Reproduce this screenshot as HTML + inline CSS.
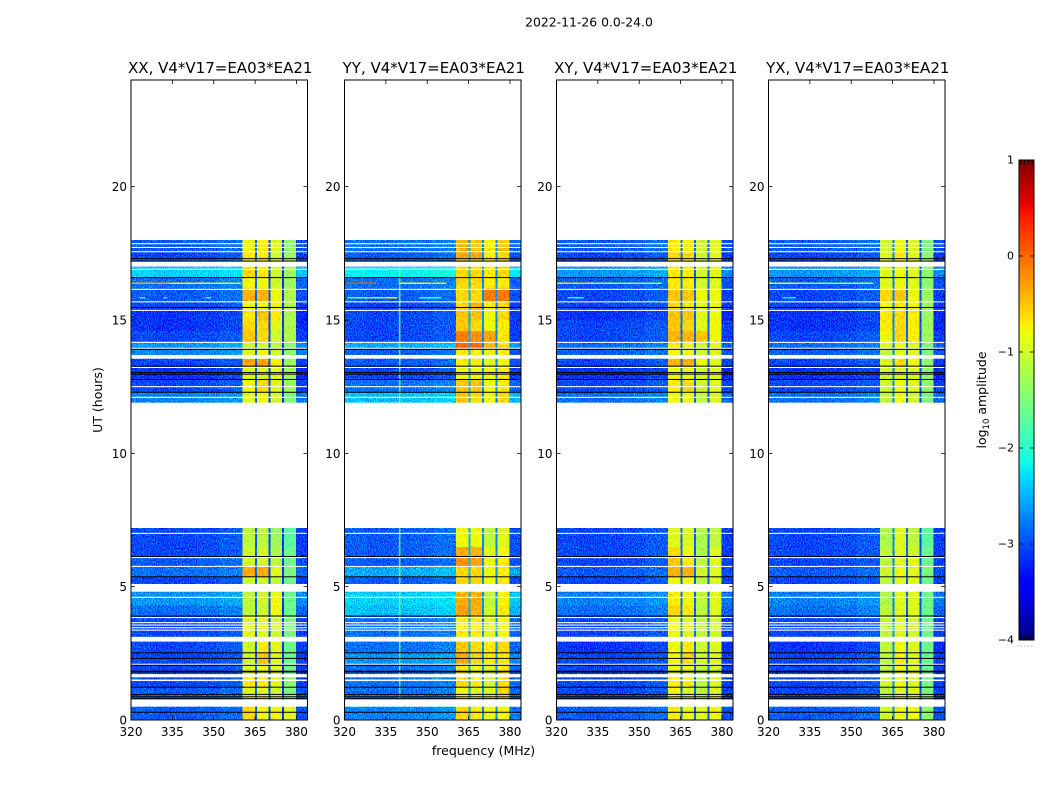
<!DOCTYPE html>
<html lang="en">
<head>
<meta charset="utf-8">
<title>2022-11-26 0.0-24.0</title>
<style>
html,body{margin:0;padding:0;background:#fff;}
svg{display:block;}
text{font-family:"DejaVu Sans","Liberation Sans",sans-serif;fill:#000;}
</style>
</head>
<body>
<svg id="figure" xmlns="http://www.w3.org/2000/svg" width="1050" height="800" viewBox="0 0 1050 800">
  <defs>
    <filter id="speckle-low" x="0" y="0" width="1" height="1" color-interpolation-filters="sRGB">
      <feTurbulence type="fractalNoise" baseFrequency="0.85 0.6" numOctaves="1" seed="4" result="n"/>
      <feColorMatrix in="n" result="m" type="matrix" values="0 0 0 0 0.4615  1 0 0 0 0  0 0 0 0 0.4615  0 0 0 0 1"/>
      <feComposite in="SourceGraphic" in2="m" operator="arithmetic" k1="0" k2="1" k3="1.3" k4="-0.6"/>
    </filter>
    <filter id="speckle-band" x="0" y="0" width="1" height="1" color-interpolation-filters="sRGB">
      <feTurbulence type="fractalNoise" baseFrequency="0.5 0.35" numOctaves="2" seed="9" result="n"/>
      <feColorMatrix in="n" result="m" type="matrix" values="0 0 0 0 0.5  1 0 0 0 0  0 0 0 0 0.5  0 0 0 0 1"/>
      <feComposite in="SourceGraphic" in2="m" operator="arithmetic" k1="0" k2="1" k3="0.5" k4="-0.25"/>
    </filter>
  </defs>
  <rect width="1050" height="800" fill="#fff"/>
  <text x="589" y="26.5" font-size="12.4" text-anchor="middle">2022-11-26 0.0-24.0</text>
  <text x="483.5" y="755" font-size="12.5" text-anchor="middle">frequency (MHz)</text>
  <text transform="translate(102 400) rotate(-90)" font-size="12.5" text-anchor="middle">UT (hours)</text>
  <text transform="translate(986 400) rotate(-90)" font-size="12.5" text-anchor="middle">log<tspan font-size="8.5" dy="3">10</tspan><tspan dy="-3"> amplitude</tspan></text>
  <g id="panels"></g>
  <g id="colorbar"></g>
</svg>
<script>
/* ---------- Data (log10 amplitude, hours, MHz) ---------- */
const panelTitles = ["XX, V4*V17=EA03*EA21", "YY, V4*V17=EA03*EA21", "XY, V4*V17=EA03*EA21", "YX, V4*V17=EA03*EA21"];
const xTickLabels = [320, 335, 350, 365, 380];
const yTickLabels = [0, 5, 10, 15, 20];
const colorbarTickLabels = [1, 0, -1, -2, -3, -4];

/* time blocks: start hour of each row, last entry closes the final row */
const rowEdges = [0, 0.5, 0.8, 1.25, 1.6, 2.1, 2.5, 2.95, 3.15, 3.9, 4.3, 4.8, 5.1, 5.4, 5.75, 6.1, 6.5, 7.2,
                  11.9, 12.3, 12.8, 13.25, 13.55, 13.9, 14.2, 14.6, 15, 15.4, 15.7, 16.2, 16.6, 17, 17.3, 17.6, 18];

/* frequency blocks; channelKinds: 0 low, 1-4 sub-band, 5-7 notch, 8 upper edge */
const channelEdges = [320, 328, 336, 344, 352, 360.5, 364.9, 365.6, 369.9, 370.5, 374.8, 375.5, 379.8, 384];
const channelKinds = [0, 0, 0, 0, 0, 1, 5, 2, 6, 3, 7, 4, 8];
const lowProfile = [0.02, -0.02, 0, 0.03, 0.1];

/* rows: [low, sub1, sub2, sub3, sub4] for each time block */
const rowsXX = [
[-3.0,-0.6,-0.8,-0.8,-0.9],[-3.0,-0.7,-0.8,-0.8,-1.0],[-3.0,-0.9,-0.9,-1.0,-1.5],[-3.1,-0.7,-0.7,-0.9,-1.4],
[-3.1,-0.9,-0.8,-0.9,-1.6],[-3.1,-1.0,-0.5,-0.9,-1.6],[-3.1,-1.0,-0.7,-0.9,-1.6],[-3.1,-1.0,-0.9,-1.0,-1.5],
[-3.1,-0.9,-0.9,-1.0,-1.5],[-2.9,-1.1,-1.0,-0.8,-1.6],[-2.7,-1.1,-1.0,-0.8,-1.6],[-2.8,-1.1,-1.0,-1.0,-1.6],
[-3.1,-1.0,-1.0,-1.1,-1.6],[-2.9,-0.35,-0.35,-0.9,-1.5],[-3.0,-1.0,-1.0,-1.1,-1.6],[-3.1,-1.0,-1.0,-1.2,-1.6],
[-3.1,-1.1,-1.1,-1.3,-1.7],[-3.1,-1.1,-1.1,-1.3,-1.7],
[-2.8,-0.9,-0.8,-1.0,-1.5],[-3.1,-0.8,-0.6,-0.9,-1.3],[-3.2,-0.9,-0.9,-0.9,-1.3],[-3.1,-0.35,-0.3,-0.7,-1.3],
[-2.8,-0.9,-0.8,-1.0,-1.4],[-2.7,-1.0,-1.0,-1.1,-1.4],[-3.1,-0.5,-0.6,-1.0,-1.2],[-3.2,-0.6,-0.6,-0.9,-1.2],
[-3.2,-0.7,-0.5,-0.7,-1.2],[-3.1,-0.8,-0.8,-0.8,-1.2],[-3.0,-0.4,-0.4,-0.8,-1.2],[-2.9,-0.8,-0.8,-1.0,-1.3],
[-2.4,-0.6,-0.7,-1.0,-1.3],[-3.0,-0.7,-0.7,-1.0,-1.3],[-3.1,-0.7,-0.7,-1.0,-1.3],[-3.0,-0.8,-0.7,-0.9,-1.4]];
const rowsYY = [
[-2.8,-0.6,-0.7,-0.8,-0.8],[-2.6,-0.7,-0.7,-0.8,-0.8],[-2.9,-0.8,-0.9,-0.9,-0.6],[-2.9,-0.6,-0.7,-1.0,-0.6],
[-2.9,-0.7,-0.8,-0.9,-0.7],[-2.7,-0.35,-0.6,-0.7,-0.7],[-2.9,-0.5,-0.6,-0.7,-0.6],[-3.0,-0.7,-0.7,-0.9,-0.8],
[-2.9,-0.7,-0.7,-0.9,-0.8],[-2.5,-0.3,-0.4,-1.0,-0.7],[-2.4,-0.35,-0.35,-1.1,-0.75],[-2.6,-0.6,-0.6,-1.0,-0.7],
[-3.0,-0.6,-0.6,-0.8,-0.7],[-2.6,-0.6,-0.6,-0.8,-0.7],[-3.0,-0.2,-0.3,-0.8,-0.7],[-3.0,-0.35,-0.4,-0.9,-0.8],
[-3.0,-0.8,-0.8,-1.1,-0.9],[-3.0,-0.8,-0.8,-1.1,-0.9],
[-2.5,-0.5,-0.6,-0.8,-0.6],[-2.9,-0.5,-0.5,-0.8,-0.7],[-3.1,-0.8,-0.8,-0.8,-0.7],[-3.0,-0.7,-0.7,-0.9,-0.8],
[-3.0,-0.7,-0.7,-0.8,-0.7],[-2.6,0.0,0.0,-0.4,-0.6],[-3.1,-0.1,-0.2,-0.3,-0.7],[-3.1,-0.5,-0.6,-0.8,-0.7],
[-3.1,-0.5,-0.5,-0.8,-0.6],[-3.1,-0.6,-0.4,-0.7,-0.6],[-3.0,-0.6,-0.6,-0.1,-0.1],[-2.9,-0.6,-0.6,-0.7,-0.7],
[-2.2,-0.6,-0.6,-0.7,-0.6],[-3.0,-0.5,-0.5,-0.7,-0.6],[-3.0,-0.35,-0.35,-0.7,-0.6],[-2.9,-0.4,-0.5,-0.7,-0.5]];
const rowsXY = [
[-3.0,-0.7,-0.8,-0.9,-0.8],[-3.0,-0.8,-0.8,-0.9,-0.9],[-3.1,-0.8,-0.9,-1.1,-0.9],[-3.1,-0.7,-0.7,-1.1,-0.9],
[-3.1,-0.8,-0.8,-1.1,-1.0],[-3.1,-0.8,-0.6,-1.0,-0.9],[-3.2,-0.8,-0.7,-1.0,-0.9],[-3.1,-0.9,-0.9,-1.1,-1.0],
[-3.1,-0.8,-0.9,-1.1,-1.0],[-2.9,-0.6,-0.7,-1.1,-0.9],[-2.8,-0.7,-0.8,-1.1,-0.9],[-3.0,-0.8,-0.8,-1.1,-0.9],
[-3.1,-0.8,-0.8,-1.1,-0.9],[-3.0,-0.4,-0.4,-1.0,-0.9],[-3.1,-0.5,-0.7,-1.1,-0.9],[-3.1,-0.6,-0.8,-1.2,-0.9],
[-3.1,-0.9,-0.9,-1.2,-1.1],[-3.1,-0.9,-0.9,-1.2,-1.1],
[-2.9,-0.8,-0.8,-1.1,-0.9],[-3.1,-0.7,-0.6,-1.0,-0.9],[-3.2,-0.8,-0.8,-1.0,-0.9],[-3.1,-0.4,-0.4,-0.8,-0.9],
[-3.0,-0.8,-0.8,-1.0,-0.9],[-2.9,-0.7,-0.8,-1.0,-0.9],[-3.1,-0.4,-0.4,-0.5,-0.8],[-3.1,-0.5,-0.6,-0.9,-0.8],
[-3.2,-0.5,-0.5,-0.9,-0.8],[-3.1,-0.6,-0.7,-0.9,-0.8],[-3.1,-0.5,-0.5,-0.8,-0.8],[-3.0,-0.7,-0.7,-1.0,-0.9],
[-2.7,-0.7,-0.7,-1.0,-0.9],[-3.1,-0.7,-0.7,-1.0,-0.9],[-3.1,-0.6,-0.6,-1.0,-0.9],[-3.0,-0.7,-0.7,-1.0,-0.9]];
const rowsYX = [
[-3.0,-1.0,-0.8,-0.8,-1.4],[-3.0,-1.0,-0.8,-0.9,-1.4],[-3.1,-1.1,-0.9,-0.9,-1.5],[-3.1,-1.0,-0.8,-0.9,-1.5],
[-3.1,-1.1,-0.8,-0.9,-1.6],[-3.1,-1.1,-0.7,-0.9,-1.6],[-3.2,-1.1,-0.8,-0.9,-1.6],[-3.1,-1.1,-0.9,-0.9,-1.6],
[-3.1,-1.1,-0.9,-1.0,-1.6],[-2.9,-1.1,-0.9,-0.9,-1.6],[-2.8,-1.2,-0.9,-0.9,-1.6],[-3.0,-1.1,-0.9,-0.9,-1.6],
[-3.1,-1.1,-0.9,-0.9,-1.6],[-3.0,-1.0,-0.8,-0.9,-1.5],[-3.1,-1.1,-0.9,-0.9,-1.6],[-3.1,-1.1,-0.9,-1.0,-1.6],
[-3.1,-1.2,-0.9,-1.1,-1.7],[-3.1,-1.2,-0.9,-1.1,-1.7],
[-2.9,-1.1,-0.8,-1.0,-1.5],[-3.1,-1.0,-0.8,-0.9,-1.4],[-3.2,-1.0,-0.9,-0.9,-1.4],[-3.1,-0.9,-0.6,-0.8,-1.4],
[-3.0,-1.1,-0.9,-0.9,-1.5],[-2.9,-0.9,-0.8,-0.9,-1.5],[-3.1,-0.8,-0.6,-0.7,-1.3],[-3.2,-0.7,-0.6,-0.7,-1.3],
[-3.2,-0.7,-0.6,-0.7,-1.3],[-3.1,-0.8,-0.7,-0.8,-1.3],[-3.1,-0.6,-0.5,-0.8,-1.3],[-3.0,-0.9,-0.8,-0.9,-1.4],
[-2.7,-0.9,-0.8,-0.9,-1.4],[-3.1,-0.9,-0.8,-0.9,-1.4],[-3.1,-0.9,-0.7,-0.9,-1.4],[-3.0,-1.0,-0.8,-0.9,-1.5]];

/* notch levels at 365, 370, 375 MHz */
const notchXX = [-2.9, -3.0, -3.1];
const notchYY = [-2.5, -2.7, -2.7];
const notchXY = [-2.8, -2.9, -2.9];
const notchYX = [-2.7, -2.9, -3.0];

/* narrow interference: [hour, start MHz, end MHz, level] */
const rfiXX = [[16.38,320,334,-0.3],[16.38,334,346,-0.7],[16.38,346,360,-1.1],[15.83,323,325,-1.9],[15.83,332,333,-1.7],[15.83,347,349,-1.9]];
const rfiYY = [[16.38,321,331,0.15],[16.38,340,350,-0.9],[16.38,350,357,-0.6],[15.83,321,335,-1.5],[15.83,335,339,-0.7],[15.83,347,355,-1.9]];
const rfiXY = [[16.38,320,332,-0.6],[16.38,332,345,-1.2],[16.38,345,358,-1.3],[15.83,324,330,-2.1]];
const rfiYX = [[16.38,320,331,-0.9],[16.38,331,345,-1.4],[16.38,345,358,-1.3],[15.83,325,330,-2.2]];
/* vertical interference line in YY: [MHz start, MHz end, hour start, hour end, level] */
const verticalRfiYY = [[339.7, 340.3, 0.8, 17, -1.5]];

/* flagged data, common to every panel */
const whiteRanges = [[0.50,0.77],[1.46,1.52],[1.60,1.72],[2.07,2.11],[2.94,3.12],[3.35,3.39],[3.44,3.48],[3.54,3.58],[3.63,3.67],[3.82,3.86],
  [4.58,4.62],[4.81,5.10],[5.74,5.78],[6.07,6.11],[6.98,7.02],[7.2,11.9],[12.08,12.12],[12.48,12.52],[13.20,13.24],[13.55,13.69],
  [13.92,13.96],[14.14,14.18],[15.34,15.38],[15.66,15.70],[16.13,16.17],[16.88,16.92],[17.0,17.19],[17.54,17.58],[17.70,17.74],[17.84,17.88],[18,24]];
const blackHours = [0.29,0.80,0.87,0.96,1.23,1.80,1.83,2.05,2.31,2.52,3.90,5.37,6.13,12.29,12.77,12.97,13.03,13.27,13.90,15.47,16.59,17.21,17.30];

/* ---------- Rendering ---------- */
const panelRows = [rowsXX, rowsYY, rowsXY, rowsYX];
const panelNotches = [notchXX, notchYY, notchXY, notchYX];
const panelRfi = [rfiXX, rfiYY, rfiXY, rfiYX];
const panelSlugs = ["xx", "yy", "xy", "yx"];
const panelLeft = [131, 344.5, 556.5, 768.5];
const panelWidth = 176.5, plotTop = 80, plotBottom = 720;
const NS = "http://www.w3.org/2000/svg";

function yOf(hour) { return plotBottom - hour * (plotBottom - plotTop) / 24; }
function xOf(panel, mhz) { return panelLeft[panel] + (mhz - 320) * panelWidth / 64; }
function ramp(t, a, b, c, d) {
  if (t < a) return 0;
  if (t < b) return (t - a) / (b - a);
  if (t < c) return 1;
  if (t < d) return 1 - (t - c) / (d - c);
  return 0;
}
function jet(level) {
  const t = Math.max(0, Math.min(1, (level + 4) / 5));
  const r = t < 0.89 ? ramp(t, 0.35, 0.66, 2, 3) : 1 - 0.5 * (t - 0.89) / 0.11;
  const g = ramp(t, 0.125, 0.375, 0.64, 0.91);
  const b = t < 0.11 ? 0.5 + 0.5 * t / 0.11 : ramp(t, -1, 0, 0.34, 0.65);
  return "rgb(" + Math.round(r * 255) + "," + Math.round(g * 255) + "," + Math.round(b * 255) + ")";
}
function make(tag, attrs, parent, text) {
  const el = document.createElementNS(NS, tag);
  for (const k in attrs) el.setAttribute(k, attrs[k]);
  if (text !== undefined) el.textContent = text;
  parent.appendChild(el);
  return el;
}
function tickText(v) { return String(v).replace("-", "\u2212"); }

const panelsRoot = document.getElementById("panels");
panelTitles.forEach(function (title, p) {
  const slug = panelSlugs[p];
  const left = panelLeft[p], right = left + panelWidth;
  const g = make("g", {}, panelsRoot);
  
  

  const lowGroup = make("g", { filter: "url(#speckle-low)" }, g);
  
  
  const bandGroup = make("g", { filter: "url(#speckle-band)" }, g);
  
  

  panelRows[p].forEach(function (row, r) {
    const y0 = yOf(rowEdges[r + 1]), y1 = yOf(rowEdges[r]);
    channelKinds.forEach(function (kind, c) {
      let level;
      if (kind === 0) level = row[0] + lowProfile[c];
      else if (kind <= 4) level = row[kind];
      else if (kind <= 7) level = panelNotches[p][kind - 5];
      else level = row[0] - 0.05;
      const parent = (kind === 0 || kind === 8) ? lowGroup : bandGroup;
      const x0 = xOf(p, channelEdges[c]), x1 = xOf(p, channelEdges[c + 1]);
      const cell = make("rect", { x: x0, y: y0, width: x1 - x0 + 0.3, height: y1 - y0 + 0.3, fill: jet(level), "shape-rendering": "crispEdges" }, parent);
      
      
    });
  });

  panelRfi[p].forEach(function (seg) {
    const x0 = xOf(p, seg[1]), x1 = xOf(p, seg[2]);
    const line = make("rect", { x: x0, y: yOf(seg[0]) - 0.8, width: x1 - x0, height: 1.6, fill: jet(seg[3]), "shape-rendering": "crispEdges" }, g);
    
    
  });
  if (p === 1) {
    verticalRfiYY.forEach(function (seg) {
      const x0 = xOf(p, seg[0]), x1 = xOf(p, seg[1]);
      const line = make("rect", { x: x0, y: yOf(seg[3]), width: x1 - x0, height: yOf(seg[2]) - yOf(seg[3]), fill: jet(seg[4]), opacity: 0.8 }, g);
      
      
    });
  }

  whiteRanges.forEach(function (w) {
    const band = make("rect", { x: left, y: yOf(w[1]), width: panelWidth, height: yOf(w[0]) - yOf(w[1]), fill: "#fff" }, g);
    
    
  });
  blackHours.forEach(function (h) {
    const line = make("rect", { x: left, y: yOf(h) - 0.5, width: panelWidth, height: 1, fill: "#000" }, g);
    
    
  });

  xTickLabels.forEach(function (v) {
    const x = xOf(p, v);
    const t1 = make("line", { x1: x, x2: x, y1: plotBottom, y2: plotBottom - 4, stroke: "#000", "stroke-width": 0.8 }, g);
    
    
    const t2 = make("line", { x1: x, x2: x, y1: plotTop, y2: plotTop + 4, stroke: "#000", "stroke-width": 0.8 }, g);
    
    
    const lab = make("text", { x: x, y: 736, "font-size": 12, "text-anchor": "middle" }, g, tickText(v));
    
    
  });
  yTickLabels.forEach(function (v) {
    const y = yOf(v);
    const t1 = make("line", { x1: left, x2: left + 4, y1: y, y2: y, stroke: "#000", "stroke-width": 0.8 }, g);
    
    
    const t2 = make("line", { x1: right, x2: right - 4, y1: y, y2: y, stroke: "#000", "stroke-width": 0.8 }, g);
    
    
    const lab = make("text", { x: left - 4, y: y + 4.5, "font-size": 12, "text-anchor": "end" }, g, tickText(v));
    
    
  });

  const frame = make("rect", { x: left, y: plotTop, width: panelWidth, height: plotBottom - plotTop, fill: "none", stroke: "#000", "stroke-width": 1 }, g);
  
  
  const heading = make("text", { x: left + panelWidth / 2 + 1, y: 73, "font-size": 15, "text-anchor": "middle" }, g, title);
  
  
});

/* colorbar */
const cb = document.getElementById("colorbar");
const cbLeft = 1019, cbWidth = 15, cbTop = 160, cbBottom = 640;
function cbY(level) { return cbBottom - (level + 4) * (cbBottom - cbTop) / 5; }
for (let step = 0; step < 240; step++) {
  const level = -4 + step * 5 / 240;
  const seg = make("rect", { x: cbLeft, y: cbY(level + 5 / 240), width: cbWidth, height: 2.3, fill: jet(level + 2.5 / 240), "shape-rendering": "crispEdges" }, cb);
  
  
}
const cbFrame = make("rect", { x: cbLeft, y: cbTop, width: cbWidth, height: cbBottom - cbTop, fill: "none", stroke: "#000", "stroke-width": 1 }, cb);


for (let i = 0; i < 4; i++) {
  const x = cbLeft + 2 + i * 3.7;
  const top = make("line", { x1: x, x2: x, y1: cbTop, y2: cbTop + 5, stroke: "#000", "stroke-width": 0.8 }, cb);
  
  
  const bottom = make("line", { x1: x, x2: x, y1: cbBottom, y2: cbBottom - 5, stroke: "#000", "stroke-width": 0.8 }, cb);
  
  
}
colorbarTickLabels.forEach(function (v) {
  const y = cbY(v);
  const t1 = make("line", { x1: cbLeft, x2: cbLeft + 4, y1: y, y2: y, stroke: "#000", "stroke-width": 0.8 }, cb);
  
  
  const t2 = make("line", { x1: cbLeft + cbWidth, x2: cbLeft + cbWidth - 4, y1: y, y2: y, stroke: "#000", "stroke-width": 0.8 }, cb);
  
  
  const lab = make("text", { x: cbLeft - 5, y: y + 3.5, "font-size": 11, "text-anchor": "end" }, cb, tickText(v));
  
  
});
const dots = make("line", { x1: 1017, x2: 1035, y1: 646, y2: 646, stroke: "#999", "stroke-width": 1, "stroke-dasharray": "1 2.6" }, cb);


</script>
</body>
</html>
